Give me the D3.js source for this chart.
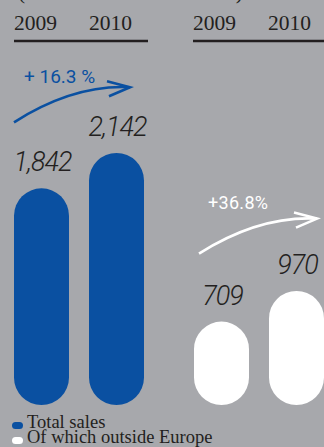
<!DOCTYPE html>
<html>
<head>
<meta charset="utf-8">
<script src="https://cdn.jsdelivr.net/npm/d3@7"></script>
<style>
  html, body { margin: 0; padding: 0; background: #a7a8ac; overflow: hidden; }
  svg { display: block; }
  .year { font-family: 'Liberation Serif', serif; font-size: 21.5px; fill: #231f20; }
  .value { font-family: Roboto, 'Liberation Sans', sans-serif; font-weight: 300; font-style: italic; font-size: 27px; fill: #231f20; letter-spacing: -1px; }
  .growth { font-family: Roboto, 'Liberation Sans', sans-serif; font-weight: 400; }
  .legend { font-family: 'Liberation Serif', serif; font-size: 18.5px; fill: #231f20; }
</style>
</head>
<body>
<div id="chart"></div>
<script>
const years = ['2009', '2010']
const totalSales = [1842, 2142]
const outsideEurope = [709, 970]
const growthLabels = ['+ 16.3 %', '+36.8%']
const legendLabels = ['Total sales', 'Of which outside Europe']
const seriesColors = ['#0a50a1', '#ffffff']

const width = 324
const height = 447
const baseY = 405

let svg = d3
  .select('#chart')
  .append('svg')
  .attr('width', width)
  .attr('height', height)

svg.append('rect').attr('width', width).attr('height', height).attr('fill', '#a7a8ac')

// cut-off heading, only parenthesis tails show
svg
  .append('text')
  .attr('class', 'year')
  .attr('x', 18)
  .attr('y', -1)
  .attr('textLength', 225)
  .attr('lengthAdjust', 'spacing')
  .text('(in millions of euros)')

let yScale = d3.scaleLinear().domain([0, 2000]).range([baseY, baseY - 2000 * 0.11765])

let xScale = d3.scaleBand().domain(years).range([0, 130]).paddingInner(0.2667)

let groups = [
  { values: totalSales, x0: 14, color: seriesColors[0], label: growthLabels[0], fs: 19 },
  { values: outsideEurope, x0: 194, color: seriesColors[1], label: growthLabels[1], fs: 18 },
]

groups.forEach((grp, gi) => {
  let g = svg.append('g').attr('transform', `translate(${grp.x0},0)`)
  let bw = xScale.bandwidth()

  // year header + rule
  g.selectAll('.year-lbl')
    .data(years)
    .enter()
    .append('text')
    .attr('class', 'year')
    .attr('x', (d) => xScale(d) - (gi === 1 ? 1 : 0))
    .attr('y', 30)
    .text((d) => d)

  g.append('line')
    .attr('x1', gi === 1 ? -1 : 0)
    .attr('x2', 134)
    .attr('y1', 41)
    .attr('y2', 41)
    .attr('stroke', '#231f20')
    .attr('stroke-width', 2.5)

  // bars
  g.selectAll('.bar')
    .data(grp.values)
    .enter()
    .append('rect')
    .attr('x', (d, i) => xScale(years[i]))
    .attr('y', (d) => yScale(d))
    .attr('width', bw)
    .attr('height', (d) => baseY - yScale(d))
    .attr('rx', bw / 2)
    .attr('fill', grp.color)

  // values
  g.selectAll('.value-lbl')
    .data(grp.values)
    .enter()
    .append('text')
    .attr('class', 'value')
    .attr('x', (d, i) => xScale(years[i]) + bw / 2 + 1)
    .attr('y', (d) => yScale(d) - 17)
    .attr('text-anchor', 'middle')
    .text((d) => d3.format(',')(d))

  // growth arrow
  let topLbl = yScale(grp.values[0]) - 17 - 20
  let sx = xScale(years[0]) + (gi === 1 ? 5 : 0)
  let sy = topLbl - 29 - (gi === 1 ? 2 : 0)
  let ex = xScale(years[1]) + bw - (gi === 1 ? 7 : 14)
  let ey = sy - 35
  let p = d3.path()
  p.moveTo(sx, sy)
  p.quadraticCurveTo(sx + 60, ey - 3, ex, ey)
  g.append('path')
    .attr('d', p.toString())
    .attr('fill', 'none')
    .attr('stroke', grp.color)
    .attr('stroke-width', 2.6)

  let h = d3.path()
  h.moveTo(ex - 23, ey - 6)
  h.lineTo(ex, ey)
  h.lineTo(ex - 21, ey + 9)
  g.append('path')
    .attr('d', h.toString())
    .attr('fill', 'none')
    .attr('stroke', grp.color)
    .attr('stroke-width', 2.6)
    .attr('stroke-linejoin', 'miter')

  g.append('text')
    .attr('class', 'growth')
    .attr('x', sx + (gi === 1 ? 9 : 10))
    .attr('y', ey - (gi === 1 ? 10 : 4))
    .attr('fill', grp.color)
    .style('font-size', grp.fs + 'px')
    .style('letter-spacing', gi === 1 ? '0.3px' : '0px')
    .text(grp.label)
})

// legend
let legend = svg.append('g').attr('transform', 'translate(12,0)')
legendLabels.forEach((lbl, i) => {
  let ly = 428 + i * 15
  legend
    .append('rect')
    .attr('x', 0)
    .attr('y', ly - 6)
    .attr('width', 11)
    .attr('height', 7)
    .attr('rx', 3.5)
    .attr('fill', seriesColors[i])
  legend
    .append('text')
    .attr('class', 'legend')
    .attr('x', 15)
    .attr('y', ly)
    .text(lbl)
})
</script>
</body>
</html>
